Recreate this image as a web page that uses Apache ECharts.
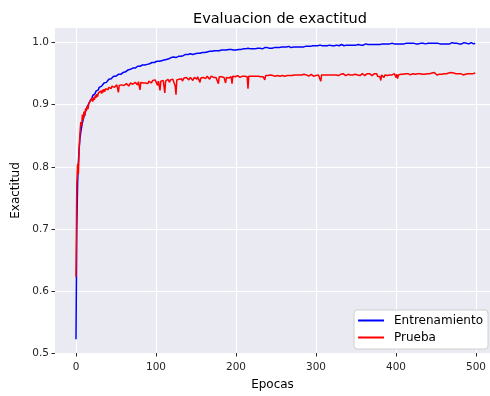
<!DOCTYPE html>
<html>
<head>
<meta charset="utf-8">
<script src="https://cdn.jsdelivr.net/npm/echarts@6/dist/echarts.min.js"></script>
<style>html,body{margin:0;padding:0;background:#fff}#c{width:490px;height:396px}</style>
</head>
<body>
<div id="c"></div>
<script>
const xTicks = [0, 100, 200, 300, 400, 500];
const yTicks = [0.5, 0.6, 0.7, 0.8, 0.9, 1.0];
const seriesNames = ['Entrenamiento', 'Prueba'];

const entrenamiento = [
0.522,0.700,0.772,0.808,0.830,0.846,0.856,0.864,0.871,0.876,0.881,0.885,0.889,0.892,0.896,0.899,0.902,0.905,0.907,0.910,
0.911,0.915,0.915,0.918,0.918,0.922,0.921,0.925,0.924,0.928,0.927,0.930,0.930,0.933,0.932,0.935,0.934,0.937,0.936,0.939,
0.939,0.941,0.940,0.943,0.942,0.944,0.943,0.946,0.945,0.947,0.946,0.948,0.947,0.949,0.949,0.950,0.949,0.952,0.951,0.952,
0.952,0.954,0.953,0.955,0.954,0.956,0.955,0.957,0.957,0.956,0.958,0.959,0.958,0.960,0.959,0.961,0.960,0.962,0.961,0.962,
0.962,0.963,0.962,0.964,0.963,0.965,0.964,0.965,0.966,0.965,0.966,0.967,0.966,0.968,0.967,0.968,0.968,0.969,0.968,0.970,
0.969,0.970,0.969,0.971,0.970,0.971,0.972,0.971,0.972,0.973,0.972,0.973,0.974,0.973,0.974,0.975,0.974,0.975,0.975,0.976,
0.975,0.976,0.977,0.976,0.977,0.976,0.978,0.977,0.978,0.978,0.979,0.978,0.979,0.980,0.979,0.980,0.979,0.981,0.980,0.980,
0.981,0.980,0.981,0.982,0.981,0.982,0.981,0.982,0.983,0.982,0.983,0.982,0.983,0.984,0.983,0.983,0.984,0.983,0.984,0.984,
0.983,0.984,0.985,0.984,0.985,0.984,0.985,0.986,0.985,0.985,0.986,0.985,0.986,0.987,0.986,0.986,0.987,0.986,0.987,0.987,
0.986,0.987,0.988,0.987,0.987,0.988,0.987,0.988,0.988,0.987,0.988,0.989,0.988,0.988,0.989,0.988,0.989,0.988,0.989,0.989,
0.988,0.989,0.990,0.989,0.989,0.988,0.989,0.990,0.989,0.990,0.989,0.990,0.990,0.989,0.990,0.991,0.990,0.989,0.990,0.990,
0.991,0.990,0.990,0.991,0.990,0.991,0.990,0.991,0.991,0.990,0.991,0.992,0.991,0.990,0.991,0.991,0.992,0.991,0.991,0.992,
0.991,0.992,0.991,0.992,0.992,0.991,0.992,0.993,0.992,0.991,0.992,0.992,0.993,0.992,0.992,0.993,0.992,0.993,0.992,0.993,
0.993,0.992,0.993,0.993,0.992,0.993,0.994,0.993,0.993,0.992,0.993,0.994,0.993,0.993,0.994,0.993,0.994,0.993,0.993,0.994,
0.994,0.993,0.994,0.994,0.993,0.994,0.995,0.994,0.993,0.994,0.994,0.995,0.994,0.994,0.995,0.994,0.995,0.994,0.994,0.995,
0.994,0.995,0.995,0.994,0.995,0.996,0.995,0.994,0.995,0.995,0.996,0.995,0.995,0.996,0.995,0.994,0.995,0.996,0.995,0.996,
0.995,0.996,0.996,0.995,0.996,0.995,0.996,0.997,0.996,0.995,0.996,0.996,0.997,0.996,0.996,0.995,0.996,0.997,0.996,0.996,
0.997,0.996,0.996,0.997,0.996,0.997,0.996,0.996,0.997,0.997,0.996,0.997,0.996,0.997,0.998,0.997,0.996,0.997,0.997,0.996,
0.997,0.997,0.998,0.997,0.996,0.997,0.997,0.998,0.997,0.997,0.996,0.997,0.998,0.997,0.997,0.998,0.997,0.997,0.998,0.997,
0.997,0.998,0.997,0.998,0.997,0.997,0.998,0.998,0.997,0.998,0.997,0.998,0.998,0.997,0.998,0.999,0.998,0.997,0.998,0.998,
0.997,0.998,0.998,0.999,0.998,0.997,0.998,0.998,0.999,0.998,0.998,0.997,0.998,0.999,0.998,0.998,0.999,0.998,0.998,0.999,
0.998,0.998,0.999,0.998,0.997,0.998,0.999,0.998,0.998,0.999,0.998,0.999,0.998,0.998,0.999,0.999,0.998,0.998,0.999,0.998,
0.999,0.998,0.998,0.999,0.998,0.999,0.999,0.998,0.998,0.999,0.998,0.999,0.999,0.998,0.999,0.998,0.999,0.999,0.998,0.999,
0.999,0.998,0.999,0.999,0.998,0.999,0.999,0.998,0.999,0.999,1.000,0.999,0.998,0.999,0.999,0.998,0.999,0.999,0.999,0.998,
0.999,0.999,0.998,0.999,0.999,1.000,0.999,0.998,0.999,0.999,0.999,0.998,0.999,0.999,1.000,0.999,0.999,0.998,0.999,0.999
];

const prueba = [
0.623,0.772,0.805,0.788,0.832,0.855,0.872,0.866,0.884,0.876,0.889,0.882,0.894,0.890,0.898,0.893,0.902,0.899,0.906,0.903,
0.910,0.905,0.912,0.908,0.915,0.911,0.917,0.913,0.919,0.921,0.916,0.922,0.918,0.924,0.920,0.925,0.921,0.926,0.923,0.927,
0.924,0.928,0.925,0.929,0.926,0.930,0.927,0.931,0.928,0.930,0.926,0.932,0.929,0.920,0.931,0.933,0.930,0.932,0.929,0.934,
0.931,0.933,0.930,0.934,0.932,0.935,0.930,0.933,0.935,0.932,0.936,0.933,0.934,0.931,0.936,0.934,0.935,0.932,0.937,0.934,
0.924,0.936,0.934,0.937,0.935,0.933,0.937,0.935,0.938,0.936,0.934,0.938,0.936,0.939,0.935,0.937,0.939,0.936,0.938,0.940,
0.937,0.939,0.931,0.938,0.940,0.923,0.938,0.940,0.937,0.939,0.941,0.919,0.938,0.940,0.937,0.941,0.939,0.936,0.940,0.942,
0.939,0.941,0.938,0.940,0.930,0.916,0.940,0.942,0.939,0.941,0.943,0.940,0.942,0.938,0.941,0.943,0.940,0.942,0.944,0.941,
0.943,0.940,0.942,0.944,0.941,0.943,0.939,0.942,0.944,0.942,0.943,0.941,0.945,0.942,0.944,0.936,0.943,0.945,0.942,0.944,
0.943,0.945,0.942,0.944,0.946,0.943,0.945,0.941,0.944,0.946,0.943,0.945,0.944,0.942,0.946,0.944,0.945,0.943,0.934,0.945,
0.946,0.944,0.945,0.943,0.946,0.944,0.945,0.935,0.944,0.946,0.945,0.943,0.946,0.944,0.945,0.934,0.946,0.944,0.947,0.945,
0.946,0.944,0.947,0.945,0.946,0.944,0.947,0.945,0.946,0.947,0.945,0.946,0.944,0.947,0.945,0.926,0.946,0.947,0.945,0.946,
0.947,0.945,0.946,0.944,0.947,0.946,0.945,0.947,0.946,0.944,0.947,0.945,0.946,0.947,0.945,0.946,0.940,0.947,0.945,0.946,
0.947,0.945,0.946,0.948,0.946,0.945,0.947,0.946,0.948,0.946,0.947,0.945,0.947,0.946,0.948,0.946,0.947,0.945,0.947,0.946,
0.948,0.946,0.947,0.945,0.947,0.948,0.946,0.947,0.946,0.948,0.947,0.946,0.947,0.948,0.946,0.947,0.948,0.946,0.947,0.948,
0.946,0.947,0.948,0.946,0.947,0.949,0.947,0.946,0.948,0.947,0.948,0.946,0.948,0.947,0.949,0.947,0.948,0.946,0.948,0.949,
0.947,0.948,0.946,0.948,0.949,0.947,0.938,0.948,0.947,0.949,0.948,0.947,0.949,0.948,0.947,0.949,0.948,0.947,0.949,0.948,
0.949,0.947,0.948,0.949,0.947,0.948,0.950,0.948,0.947,0.949,0.948,0.949,0.947,0.948,0.950,0.948,0.949,0.947,0.949,0.948,
0.949,0.948,0.950,0.948,0.947,0.949,0.948,0.950,0.948,0.949,0.947,0.949,0.948,0.950,0.949,0.947,0.949,0.948,0.950,0.948,
0.949,0.947,0.949,0.948,0.950,0.949,0.948,0.950,0.948,0.949,0.947,0.949,0.948,0.950,0.949,0.948,0.950,0.946,0.948,0.949,
0.945,0.939,0.948,0.950,0.949,0.944,0.948,0.950,0.949,0.947,0.949,0.950,0.948,0.949,0.950,0.948,0.949,0.946,0.950,0.949,
0.944,0.949,0.942,0.948,0.950,0.945,0.949,0.950,0.948,0.949,0.951,0.948,0.950,0.949,0.948,0.950,0.949,0.951,0.948,0.950,
0.949,0.950,0.948,0.951,0.949,0.950,0.948,0.950,0.949,0.951,0.950,0.948,0.950,0.949,0.951,0.950,0.949,0.950,0.948,0.950,
0.951,0.949,0.950,0.948,0.950,0.951,0.949,0.950,0.952,0.949,0.950,0.948,0.950,0.951,0.949,0.950,0.951,0.949,0.950,0.948,
0.950,0.951,0.949,0.950,0.948,0.950,0.951,0.949,0.950,0.952,0.950,0.949,0.951,0.950,0.948,0.950,0.951,0.949,0.950,0.951,
0.949,0.950,0.951,0.950,0.948,0.950,0.951,0.949,0.950,0.951,0.950,0.949,0.951,0.950,0.949,0.951,0.950,0.952,0.950,0.951
];

const FONT = 'DejaVu Sans';
const TXT = '#262626';
const chart = echarts.init(document.getElementById('c'), null, {renderer: 'canvas'});
const toPairs = arr => arr.map((v, i) => [i, v]);

chart.setOption({
  animation: false,
  backgroundColor: '#ffffff',
  title: {
    text: 'Evaluacion de exactitud',
    left: 275, top: 7, textAlign: 'center',
    textStyle: {fontFamily: FONT, fontSize: 14.5, fontWeight: 'normal', color: '#000'}
  },
  grid: {
    left: 55, right: 0, top: 28, bottom: 40,
    show: true, backgroundColor: '#EAEAF2', borderWidth: 0
  },
  legend: {
    orient: 'vertical',
    right: 2, bottom: 47,
    data: seriesNames,
    icon: 'rect',
    backgroundColor: '#ffffff',
    borderColor: '#d0d0d0', borderWidth: 1, borderRadius: 3,
    padding: [4, 5, 5, 4],
    itemWidth: 26, itemHeight: 2, itemGap: 4,
    textStyle: {fontFamily: FONT, fontSize: 12, color: '#000', padding: [0, 0, 0, 5], lineHeight: 13}
  },
  xAxis: {
    type: 'value', min: -26.25, max: 517.5,
    name: 'Epocas', nameLocation: 'middle', nameGap: 26,
    nameTextStyle: {fontFamily: FONT, fontSize: 12, color: '#000'},
    axisLine: {show: false, onZero: false},
    axisTick: {show: true, length: 3.5, customValues: xTicks, lineStyle: {color: TXT, width: 1}},
    axisLabel: {customValues: xTicks, margin: 9, fontFamily: FONT, fontSize: 10.5, color: TXT},
    splitLine: {show: true, lineStyle: {color: '#ffffff', width: 1}}
  },
  yAxis: {
    type: 'value', min: 0.5, max: 1.0236,
    name: 'Exactitud', nameLocation: 'middle', nameGap: 32,
    nameTextStyle: {fontFamily: FONT, fontSize: 12, color: '#000'},
    axisLine: {show: false, onZero: false},
    axisTick: {show: true, length: 3.5, customValues: yTicks, lineStyle: {color: TXT, width: 1}},
    axisLabel: {customValues: yTicks, margin: 6, fontFamily: FONT, fontSize: 10.5, color: TXT,
      formatter: v => v.toFixed(1)},
    splitLine: {show: true, lineStyle: {color: '#ffffff', width: 1}}
  },
  series: [
    {name: seriesNames[0], type: 'line', data: toPairs(entrenamiento), symbol: 'none',
     lineStyle: {color: '#0000ff', width: 1.5}, itemStyle: {color: '#0000ff'}},
    {name: seriesNames[1], type: 'line', data: toPairs(prueba), symbol: 'none',
     lineStyle: {color: '#ff0000', width: 1.5}, itemStyle: {color: '#ff0000'}}
  ]
});
</script>
</body>
</html>
